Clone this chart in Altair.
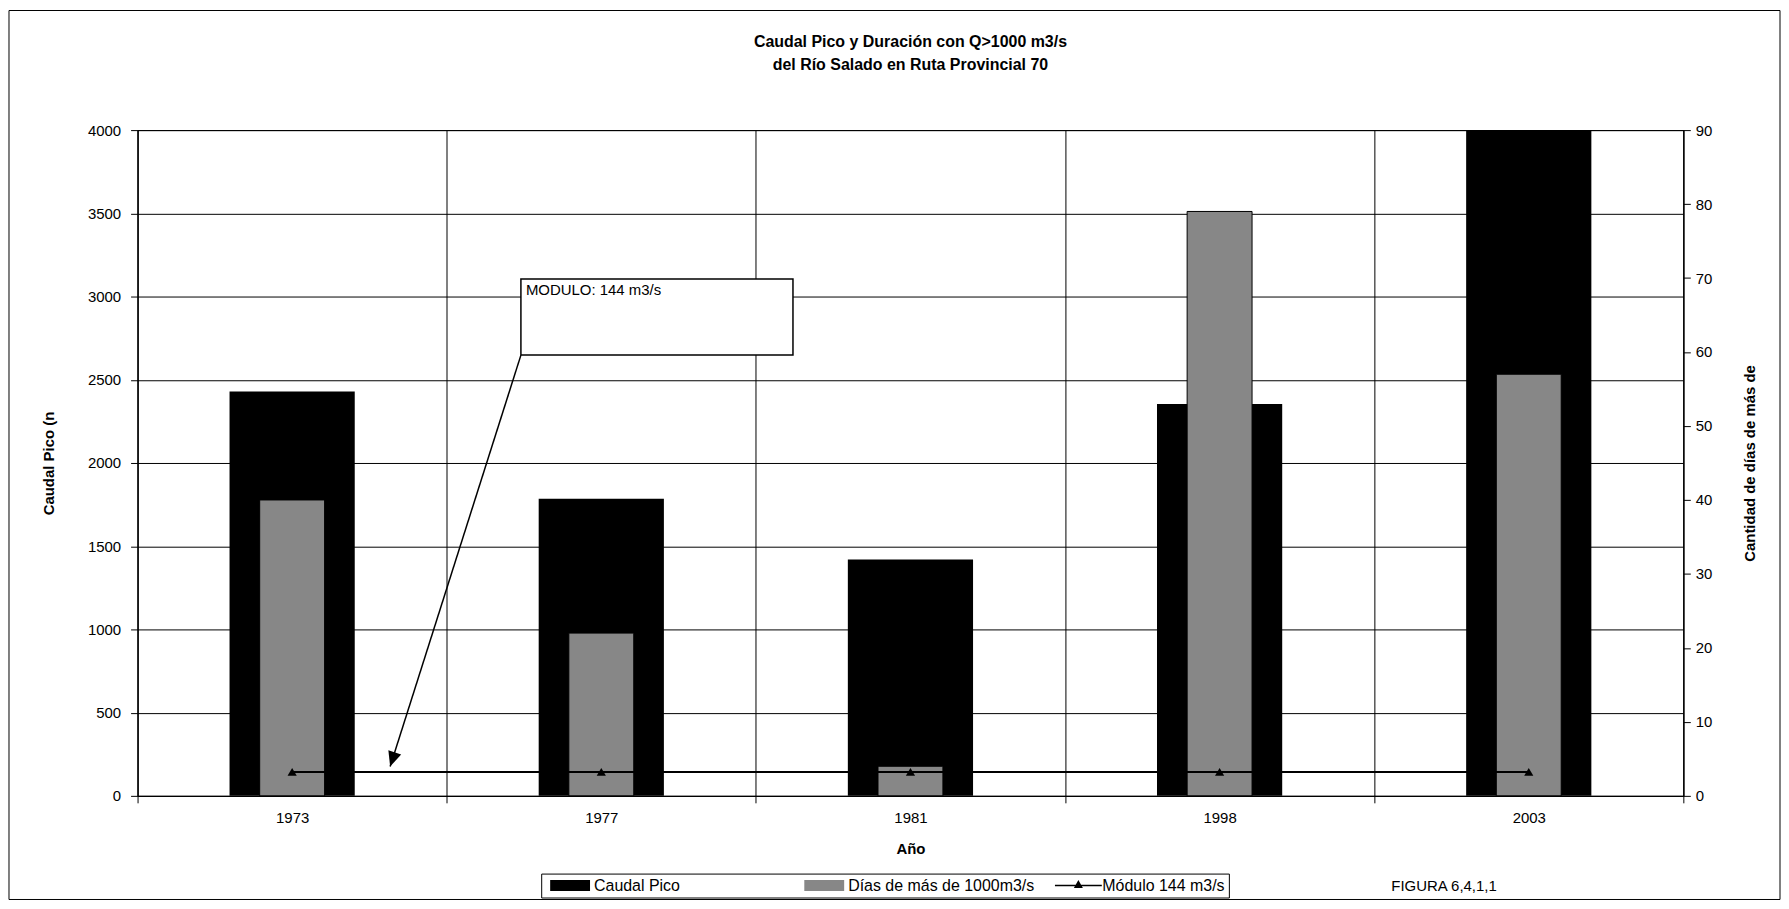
import altair as alt
import pandas as pd

# ---------------- data ----------------
years = ["1973", "1977", "1981", "1998", "2003"]
caudal_pico = [2430, 1785, 1420, 2355, 4000]      # m3/s (left axis)
dias_sobre_1000 = [40, 22, 4, 79, 57]              # days (right axis)
modulo = [144, 144, 144, 144, 144]                 # m3/s

series_names = ["Caudal Pico", "Días de más de 1000m3/s", "Módulo 144 m3/s"]
title_lines = ["Caudal Pico y Duración  con Q>1000 m3/s",
               "del Río Salado en Ruta Provincial 70"]
left_title = "Caudal Pico (n"
right_title = "Cantidad de días de más de"
x_title = "Año"
figure_label = "FIGURA 6,4,1,1"
callout_text = "MODULO: 144 m3/s"

left_ticks = [0, 500, 1000, 1500, 2000, 2500, 3000, 3500, 4000]
right_ticks = [0, 10, 20, 30, 40, 50, 60, 70, 80, 90]

# callout: position along the category axis (0..5 bands) and flow value
callout_box_x = [1.24, 2.12]
callout_box_y = [2648, 3106]
callout_arrow_x = [1.24, 0.817]
callout_arrow_y = [2648, 176]

# ---------------- styling ----------------
W, H = 1551, 668
FONT = "Liberation Sans"
HATCH_GRAY = "#878787"
RECT_PATH = "M-4,-1.1H4V1.1H-4Z"
LINE_PATH = "M-4.7,-0.15H4.7V0.15H-4.7Z M0,-1.1L0.9,0.5H-0.9Z"
ARROW_PATH = "M0,0L-0.45,-1L0.45,-1Z"

df = pd.DataFrame({"anio": years, "caudal": caudal_pico,
                   "dias": dias_sobre_1000, "modulo": modulo})

band_scale = alt.Scale(type="band", domain=years, paddingInner=0, paddingOuter=0)
flow_scale = alt.Scale(domain=[0, 4000], nice=False, zero=True)
days_scale = alt.Scale(domain=[0, 90], nice=False, zero=True)
unit_scale = alt.Scale(domain=[0, 5], nice=False, zero=False)

frame = alt.Chart(pd.DataFrame({"k": [0]})).mark_rect(
    fill="transparent", stroke="black", strokeWidth=1
).encode(
    x=alt.value(-129), x2=alt.value(W + 97),
    y=alt.value(-120), y2=alt.value(H + 104),
)

caudal = alt.Chart(df).mark_bar(color="black", width=alt.RelativeBandSize(0.405)).encode(
    x=alt.X("anio:N", sort=years, scale=band_scale, title=x_title,
            axis=alt.Axis(orient="bottom", tickBand="extent", grid=True, labelAngle=0,
                          gridColor="black", gridWidth=1, gridOpacity=1,
                          domainColor="black", tickColor="black", tickSize=7,
                          labelFont=FONT, labelFontSize=15, labelColor="black",
                          labelPadding=8, titleFont=FONT, titleFontSize=15,
                          titleFontWeight="bold", titleColor="black", titlePadding=16)),
    y=alt.Y("caudal:Q", scale=flow_scale, title=left_title,
            axis=alt.Axis(orient="left", values=left_ticks, grid=True, format="d",
                          gridColor="black", gridWidth=1, gridOpacity=1,
                          domainColor="black", tickColor="black", tickSize=7,
                          labelFont=FONT, labelFontSize=15, labelColor="black",
                          labelPadding=10, titleFont=FONT, titleFontSize=15,
                          titleFontWeight="bold", titleColor="black", titlePadding=31)),
)

dias = alt.Chart(df).mark_bar(fill=HATCH_GRAY, stroke="black", strokeWidth=1,
                              width=alt.RelativeBandSize(0.21)).encode(
    x=alt.X("anio:N", sort=years, scale=band_scale, axis=None),
    y=alt.Y("dias:Q", scale=days_scale, title=right_title,
            axis=alt.Axis(orient="right", values=right_ticks, grid=False, format="d",
                          domainColor="black", tickColor="black", tickSize=7,
                          labelFont=FONT, labelFontSize=15, labelColor="black",
                          labelPadding=5, titleFont=FONT, titleFontSize=15,
                          titleFontWeight="bold", titleColor="black",
                          titleAngle=270, titlePadding=46)),
)

mod_line = alt.Chart(df).mark_line(
    color="black", strokeWidth=2,
    point=alt.OverlayMarkDef(shape="triangle-up", size=85, filled=True, color="black"),
).encode(
    x=alt.X("anio:N", sort=years, axis=None),
    y=alt.Y("modulo:Q", scale=flow_scale, axis=None),
)

legend = alt.Legend(
    title=None, orient="none", legendX=405, legendY=746, direction="horizontal",
    symbolSize=100, symbolStrokeColor="black", symbolStrokeWidth=1, symbolOpacity=1,
    symbolOffset=17, labelOffset=16, columnPadding=18, gridAlign="all", labelLimit=400,
    labelFont=FONT, labelFontSize=16, labelColor="black",
    strokeColor="black", fillColor="white", padding=4,
)
leg_df = pd.DataFrame({"serie": series_names, "anio": [years[2]] * 3, "v": [0] * 3})
legend_layer = alt.Chart(leg_df).mark_point(filled=True, opacity=0).encode(
    x=alt.X("anio:N", sort=years, axis=None),
    y=alt.Y("v:Q", scale=flow_scale, axis=None),
    color=alt.Color("serie:N", sort=series_names, legend=legend,
                    scale=alt.Scale(domain=series_names, range=["black", HATCH_GRAY, "black"])),
    shape=alt.Shape("serie:N", sort=series_names, legend=legend,
                    scale=alt.Scale(domain=series_names, range=[RECT_PATH, RECT_PATH, LINE_PATH])),
)

box_df = pd.DataFrame({"x0": [callout_box_x[0]], "x1": [callout_box_x[1]],
                       "y0": [callout_box_y[0]], "y1": [callout_box_y[1]],
                       "t": [callout_text]})
box = alt.Chart(box_df).mark_rect(fill="white", stroke="black", strokeWidth=1.5).encode(
    x=alt.X("x0:Q", scale=unit_scale, axis=None), x2="x1:Q",
    y=alt.Y("y0:Q", scale=flow_scale, axis=None), y2="y1:Q",
)
box_text = alt.Chart(box_df).mark_text(
    align="left", baseline="top", dx=5, dy=4, font=FONT, fontSize=15, color="black"
).encode(
    x=alt.X("x0:Q", scale=unit_scale, axis=None),
    y=alt.Y("y1:Q", scale=flow_scale, axis=None),
    text="t:N",
)

arrow_df = pd.DataFrame({"ax0": [callout_arrow_x[0]], "ax1": [callout_arrow_x[1]],
                         "ay0": [callout_arrow_y[0]], "ay1": [callout_arrow_y[1]]})
arrow_line = alt.Chart(arrow_df).mark_rule(color="black", strokeWidth=1.5).encode(
    x=alt.X("ax0:Q", scale=unit_scale, axis=None), x2="ax1:Q",
    y=alt.Y("ay0:Q", scale=flow_scale, axis=None), y2="ay1:Q",
)
arrow_head = alt.Chart(arrow_df).mark_point(
    shape=ARROW_PATH, filled=True, color="black", size=900, angle=18, opacity=1
).encode(
    x=alt.X("ax1:Q", scale=unit_scale, axis=None),
    y=alt.Y("ay1:Q", scale=flow_scale, axis=None),
)

fig_text = alt.Chart(pd.DataFrame({"t": [figure_label]})).mark_text(
    align="left", baseline="middle", font=FONT, fontSize=15, color="black"
).encode(text="t:N", x=alt.value(1258), y=alt.value(758))

chart = alt.layer(
    frame, caudal, dias, mod_line, legend_layer, box, box_text, arrow_line, arrow_head, fig_text
).resolve_scale(
    x="independent", y="independent"
).properties(
    width=W, height=H, padding=0,
    title=alt.TitleParams(text=title_lines, font=FONT, fontSize=16, fontWeight="bold",
                          anchor="middle", offset=-63, lineHeight=23, color="black"),
).configure_view(stroke="black")

chart.save("out.html", embed_options={"renderer": "svg", "actions": False})
